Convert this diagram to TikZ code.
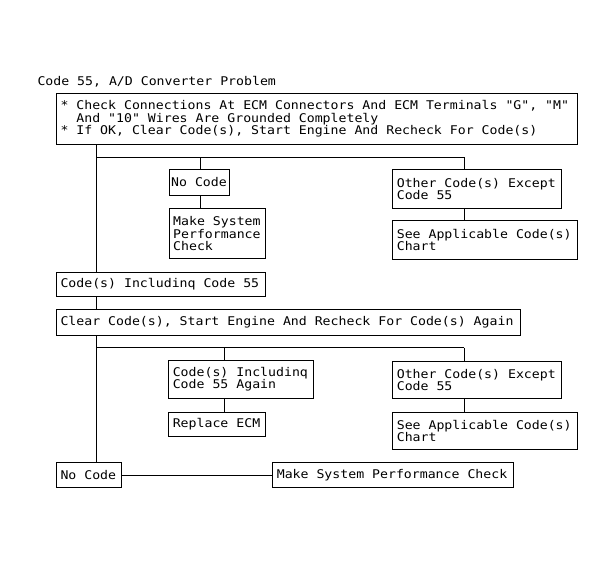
\documentclass[tikz,border=0pt]{standalone}
\usepackage{fontspec}
\newfontfamily\chartfont[FakeStretch=1.1]{DejaVu Sans Mono}
\tikzset{
    every picture/.style={
        line width=1pt,x=1pt,y=-1pt,
        every node/.style={font=\chartfont\fontsize{12}{12.5}\selectfont},
        cell/.style={draw,anchor=north west,inner xsep=4pt,inner ysep=0pt,align=left,
            execute at begin node={\spaceskip=\fontcharwd\font`x\relax\xspaceskip=\spaceskip}}
    }
}
\begin{document}
\begin{tikzpicture}
    \fill[white] (0,0) rectangle (615,563);
    \node[anchor=base west,inner sep=0pt] (title) at (37,85) {Code 55, A/D Converter Problem};
    \node[cell,text width=513.3pt,minimum height=50.7pt] (0) at (56,93.3)
        {* Check Connections At ECM Connectors And ECM Terminals "G", "M"\\
         \phantom{* }And "10" Wires Are Grounded Completely\\{}%
         * If OK, Clear Code(s), Start Engine And Recheck For Code(s)};
    \node[cell,inner xsep=2pt,text width=56.3pt,minimum height=26.5pt] (1) at (168.7,168.5) {No Code};
    \node[cell,text width=88pt,minimum height=50pt] (2) at (168.7,208.3) {Make System\\Performance\\Check};
    \node[cell,text width=160.7pt,minimum height=38.4pt] (3) at (392.3,169.3) {Other Code(s) Except\\Code 55};
    \node[cell,text width=176.4pt,minimum height=39pt] (4) at (392.3,220) {See Applicable Code(s)\\Chart};
    \node[cell,text width=201.3pt,minimum height=23.4pt] (5) at (56,272.3) {Code(s) Includinq Code 55};
    \node[cell,text width=456pt,minimum height=25.7pt] (6) at (56,309.3) {Clear Code(s), Start Engine And Recheck For Code(s) Again};
    \node[cell,text width=136.4pt,minimum height=37.7pt] (7) at (168.3,360) {Code(s) Includinq\\Code 55 Again};
    \node[cell,text width=88.7pt,minimum height=24.3pt] (8) at (168.3,411.7) {Replace ECM};
    \node[cell,text width=160.7pt,minimum height=37.6pt] (9) at (392.3,360.7) {Other Code(s) Except\\Code 55};
    \node[cell,text width=176.4pt,minimum height=37.3pt] (10) at (392.3,411.7) {See Applicable Code(s)\\Chart};
    \node[cell,text width=57pt,minimum height=25.6pt] (11) at (56,461.7) {No Code};
    \node[cell,text width=233pt,minimum height=24.4pt] (12) at (272.3,462.3) {Make System Performance Check};
    % branch points
    \coordinate (t1) at (96.7,157.3);
    \coordinate (j1) at (200.7,157.3);
    \coordinate (k1) at (464.3,157.3);
    \coordinate (t2) at (96.7,347.5);
    \coordinate (j2) at (224.3,347.5);
    \coordinate (k2) at (464.3,347.5);
    \path (0.south -| t1) edge (5.north -| t1)
          (t1) edge (k1)
          (k1) edge (3.north -| k1)
          (j1) edge (1.north -| j1)
          (1.south -| j1) edge (2.north -| j1)
          (3.south -| k1) edge (4.north -| k1)
          (5.south -| t1) edge (6.north -| t1)
          (6.south -| t2) edge (11.north -| t2)
          (t2) edge (k2)
          (k2) edge (9.north -| k2)
          (j2) edge (7.north -| j2)
          (7.south -| j2) edge (8.north -| j2)
          (9.south -| k2) edge (10.north -| k2)
          (11.east) edge (12.west)
          ;
\end{tikzpicture}
\end{document}
